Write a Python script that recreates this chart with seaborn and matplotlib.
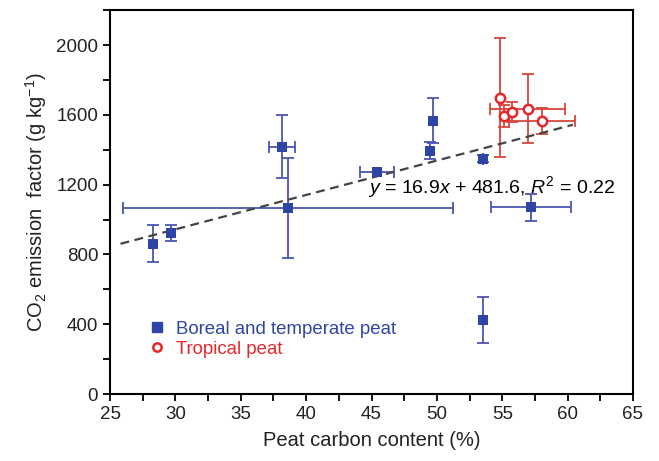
import numpy as np
import matplotlib
matplotlib.use("Agg")
import matplotlib.pyplot as plt
import seaborn as sns
from matplotlib.ticker import MultipleLocator
from matplotlib.lines import Line2D

# boreal and temperate peat
boreal_x = [28.3, 29.65, 38.15, 38.6, 45.45, 49.5, 49.7, 53.5, 57.2, 53.5]
boreal_y = [862, 922, 1417, 1067, 1272, 1395, 1566, 1348, 1070, 423]
boreal_xerr = [0, 0, 1.0, 12.6, 1.3, 0, 0, 0, 3.05, 0]
boreal_yerr = [105, 45, 180, 285, 0, 50, 130, 20, 77, 133]

# tropical peat
trop_x = [54.85, 55.15, 55.75, 56.95, 58.05]
trop_y = [1699, 1594, 1617, 1636, 1566]
trop_xerr = [0, 0, 0, 2.87, 2.55]
trop_yerr = [340, 62, 57, 200, 73]

# drawn regression line (end points)
fit_x = [25.8, 60.4]
fit_y = [861, 1543]

blue = "#2f45a6"
blue_err = "#4a56b4"
red = "#e8262a"
red_err = "#d8463c"

sns.set_style("ticks")
plt.rcParams["font.family"] = ["Liberation Sans", "DejaVu Sans"]
plt.rcParams["mathtext.fontset"] = "custom"
plt.rcParams["mathtext.rm"] = "Liberation Sans"
plt.rcParams["mathtext.it"] = "Liberation Sans:italic"

fig = plt.figure(figsize=(6.59, 4.61), dpi=100)
ax = fig.add_axes([0.167, 0.1453, 0.7935, 0.8327])

ax.errorbar(boreal_x, boreal_y, xerr=boreal_xerr, yerr=boreal_yerr, fmt="none",
            ecolor=blue_err, elinewidth=1.3, capsize=4, capthick=1.3, zorder=2)
ax.errorbar(trop_x, trop_y, xerr=trop_xerr, yerr=trop_yerr, fmt="none",
            ecolor=red_err, elinewidth=1.3, capsize=4, capthick=1.3, zorder=2)

ax.plot(fit_x, fit_y, color="#444444", linestyle=(0, (4, 2.5)), linewidth=1.6, zorder=3)

sns.scatterplot(x=boreal_x, y=boreal_y, ax=ax, marker="s", s=60, color=blue,
                edgecolor=blue, linewidth=0, zorder=4)
sns.scatterplot(x=trop_x, y=trop_y, ax=ax, marker="o", s=45, facecolor="white",
                edgecolor=red, linewidth=1.8, zorder=4)

ax.text(44.75, 1185, r"$y$ = 16.9$x$ + 481.6, $R^2$ = 0.22", fontsize=14,
        ha="left", va="center", color="black", zorder=5)

handles = [
    Line2D([], [], marker="s", linestyle="none", color=blue, markersize=7),
    Line2D([], [], marker="o", linestyle="none", markerfacecolor="white",
           markeredgecolor=red, markeredgewidth=1.8, markersize=6),
]
leg = ax.legend(handles, ["Boreal and temperate peat", "Tropical peat"],
                loc="lower left", bbox_to_anchor=(0.062, 0.075), frameon=False,
                fontsize=13.4, handlelength=0.8, handletextpad=0.6,
                labelspacing=0.17, borderaxespad=0)
leg.get_texts()[0].set_color(blue)
leg.get_texts()[1].set_color(red)

ax.set_xlim(25, 65)
ax.set_ylim(0, 2200)
ax.xaxis.set_major_locator(MultipleLocator(5))
ax.xaxis.set_minor_locator(MultipleLocator(2.5))
ax.yaxis.set_major_locator(MultipleLocator(400))
ax.yaxis.set_minor_locator(MultipleLocator(200))
ax.tick_params(which="both", direction="out", length=5, width=1.3, colors="black",
               labelsize=13.5, labelcolor="#222222")

for side in ["top", "right", "left", "bottom"]:
    ax.spines[side].set_visible(True)
    ax.spines[side].set_linewidth(1.5)
    ax.spines[side].set_color("black")

ax.set_xlabel("Peat carbon content (%)", fontsize=14.5, color="#222222", labelpad=6)
ax.set_ylabel(r"CO$_2$ emission  factor (g kg$^{-1}$)", fontsize=14.5,
              color="#222222", labelpad=5)

fig.savefig("out.png", dpi=100)
